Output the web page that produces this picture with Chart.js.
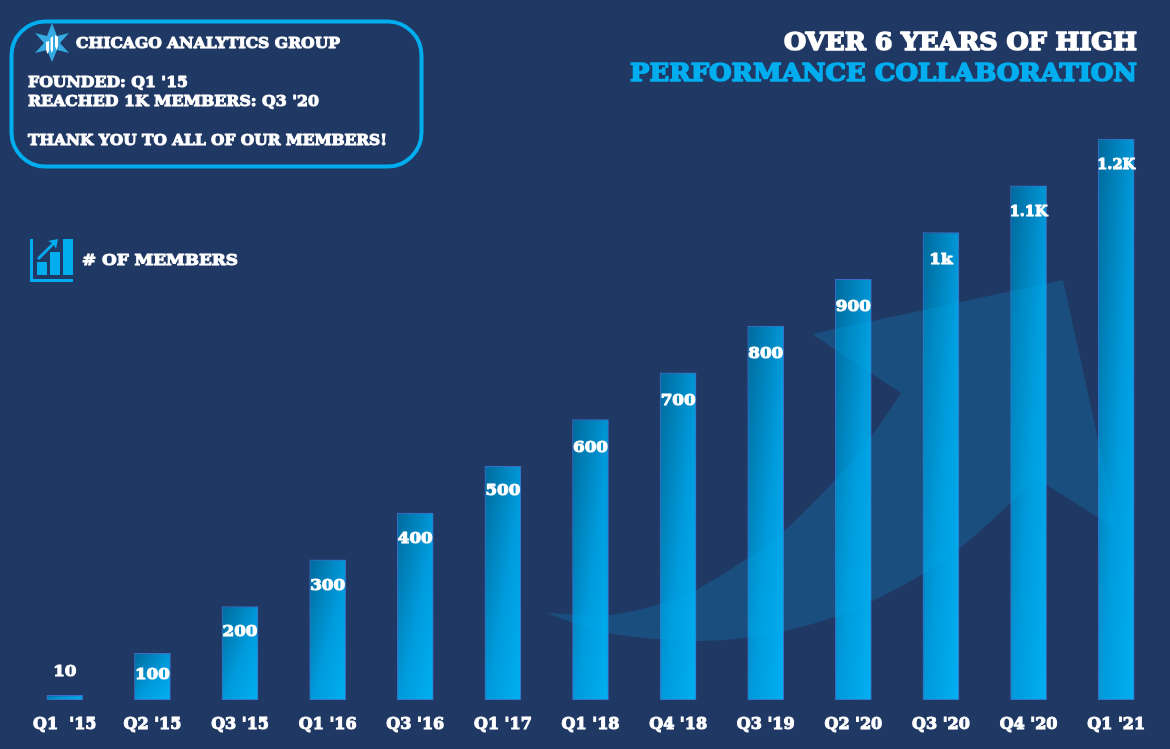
<!DOCTYPE html>
<html>
<head>
<meta charset="utf-8">
<script src="https://cdn.jsdelivr.net/npm/chart.js@4"></script>
<style>
html,body{margin:0;padding:0;background:#203864;width:1170px;height:749px;overflow:hidden}
#c{position:absolute;left:0;top:0}
#o{position:absolute;left:0;top:0;pointer-events:none}
#o text{font-family:"DejaVu Serif",serif;font-weight:700;stroke-linejoin:round}
</style>
</head>
<body>
<canvas id="c" width="1170" height="749"></canvas>
<svg id="o" width="1170" height="749" viewBox="0 0 1170 749">
  <rect x="11.5" y="21.5" width="410" height="145" rx="34" fill="none" stroke="#00aeef" stroke-width="4"/>
  <polygon points="52,23 57,36 69,33 60,43 69,53 57,50 52,62 47,50 35,53 44,43 35,33 47,36" fill="#35a9e1"/>
  <g fill="#fff">
    <polygon points="46,42 49,41 49,51 47.5,54 46,50"/>
    <polygon points="50.5,38 53,36 53,50 51.5,53 50.5,49"/>
    <polygon points="55,35 58,37 58,46 56.5,50 55,46"/>
  </g>
  <g fill="#00aeef">
    <rect x="30" y="239" width="3" height="43"/>
    <rect x="30" y="279" width="43" height="3"/>
    <rect x="37" y="262" width="10" height="13"/>
    <rect x="50" y="252" width="10" height="23"/>
    <rect x="63" y="239" width="10" height="36"/>
    <polygon points="37,258 52,243 48,241 58,239 56,249 54,245 39,260"/>
  </g>
  <g fill="#fff" stroke="#fff" stroke-width="1">
    <text x="76" y="48" font-size="15.5" textLength="264" lengthAdjust="spacingAndGlyphs">CHICAGO ANALYTICS GROUP</text>
    <text x="28" y="87" font-size="15.5" textLength="160" lengthAdjust="spacingAndGlyphs">FOUNDED: Q1 '15</text>
    <text x="28" y="106" font-size="15.5" textLength="291" lengthAdjust="spacingAndGlyphs">REACHED 1K MEMBERS: Q3 '20</text>
    <text x="28" y="145" font-size="15.5" textLength="359" lengthAdjust="spacingAndGlyphs">THANK YOU TO ALL OF OUR MEMBERS!</text>
    <text x="82" y="265" font-size="15.5" textLength="156" lengthAdjust="spacingAndGlyphs"># OF MEMBERS</text>
    <text x="784" y="50" font-size="24.5" stroke-width="1.6" textLength="353" lengthAdjust="spacingAndGlyphs">OVER 6 YEARS OF HIGH</text>
  </g>
  <text x="630" y="81" font-size="24.5" fill="#00aeef" stroke="#00aeef" stroke-width="1.6" textLength="507" lengthAdjust="spacingAndGlyphs">PERFORMANCE COLLABORATION</text>
</svg>
<script>
const categories = ["Q1  '15","Q2 '15","Q3 '15","Q1 '16","Q3 '16","Q1 '17","Q1 '18","Q4 '18","Q3 '19","Q2 '20","Q3 '20","Q4 '20","Q1 '21"];
const members = [10,100,200,300,400,500,600,700,800,900,1000,1100,1200];
const valueLabels = ["10","100","200","300","400","500","600","700","800","900","1k","1.1K","1.2K"];

const BG_FONT = '"DejaVu Serif", serif';

function barGradient(ctx){
  const chart = ctx.chart;
  if (ctx.dataIndex === undefined || !chart.scales.x) return '#00aeef';
  const w = 36;
  const cx = chart.scales.x.getPixelForValue(ctx.dataIndex);
  const top = chart.scales.y.getPixelForValue(members[ctx.dataIndex]);
  const base = chart.scales.y.getPixelForValue(0);
  if (![cx, top, base].every(Number.isFinite)) return '#00aeef';
  const h = Math.max(1, base - top);
  const k = 2 / (1/(w*w) + 1/(h*h));
  const x0 = cx - w/2;
  const g = chart.ctx.createLinearGradient(x0, top, x0 + k/w, top + k/h);
  g.addColorStop(0, '#006a9c');
  g.addColorStop(0.55, '#009bdc');
  g.addColorStop(1, '#00b0f2');
  return g;
}

function spline(c, pts){
  for (let i = 0; i < pts.length - 1; i++){
    const p0 = pts[Math.max(0,i-1)], p1 = pts[i], p2 = pts[i+1], p3 = pts[Math.min(pts.length-1,i+2)];
    c.bezierCurveTo(p1[0]+(p2[0]-p0[0])/6, p1[1]+(p2[1]-p0[1])/6, p2[0]-(p3[0]-p1[0])/6, p2[1]-(p3[1]-p1[1])/6, p2[0], p2[1]);
  }
}

const swoosh = {
  id:'swoosh',
  afterDatasetsDraw(chart){
    const c = chart.ctx;
    const outer = [[1037,479],[1011,503],[958,550],[923,574],[871,602],[835,617],[770,634],[697,641],[608,633],[547,613]];
    const inner = [[547,613],[608,615],[660,604],[696,590],[748,558],[783,532],[835,480],[871,437],[901,393]];
    c.save();
    c.beginPath();
    c.moveTo(812,334);
    c.lineTo(1063,280);
    c.lineTo(1118,530);
    c.lineTo(1037,479);
    spline(c, outer);
    spline(c, inner);
    c.closePath();
    c.fillStyle = 'rgba(0,174,239,0.19)';
    c.fill();
    c.restore();
  }
};

const barLabels = {
  id:'barLabels',
  afterDraw(chart){
    const c = chart.ctx, meta = chart.getDatasetMeta(0);
    const labelDrop = [-23,22,25,26,26,25,28,28,28,28,27,26,26];
    c.save();
    c.textAlign = 'center';
    c.textBaseline = 'middle';
    c.fillStyle = '#fff';
    c.strokeStyle = '#fff';
    c.lineWidth = 1;
    c.lineJoin = 'round';
    meta.data.forEach((el,i) => {
      const t = valueLabels[i];
      const y = el.y + labelDrop[i];
      c.save();
      c.translate(el.x, y);
      c.scale(t.length > 3 ? 1 : 1.08, 1);
      c.font = 'bold ' + (t.length > 3 ? 14.5 : 15.5) + 'px ' + BG_FONT;
      c.fillText(t, 0, 0);
      c.strokeText(t, 0, 0);
      c.restore();
    });
    c.restore();
  }
};

new Chart(document.getElementById('c'), {
  type:'bar',
  data:{labels:categories, datasets:[{
    data:members,
    backgroundColor:barGradient,
    borderColor:'#3d6cc4',
    borderWidth:1,
    borderSkipped:false,
    barThickness:36
  }]},
  options:{
    responsive:false,
    animation:false,
    layout:{padding:{left:21,right:10,top:139,bottom:0}},
    plugins:{legend:{display:false},tooltip:{enabled:false}},
    scales:{
      y:{display:false,min:0,max:1200},
      x:{
        afterFit(s){ s.height = 49; },
        border:{display:false},
        grid:{display:false,drawTicks:false},
        ticks:{
          color:'#fff',autoSkip:false,maxRotation:0,minRotation:0,padding:15,
          textStrokeColor:'#fff',textStrokeWidth:1,
          font:{family:BG_FONT,weight:'bold',size:16}
        }
      }
    }
  },
  plugins:[swoosh,barLabels]
});
</script>
</body>
</html>
